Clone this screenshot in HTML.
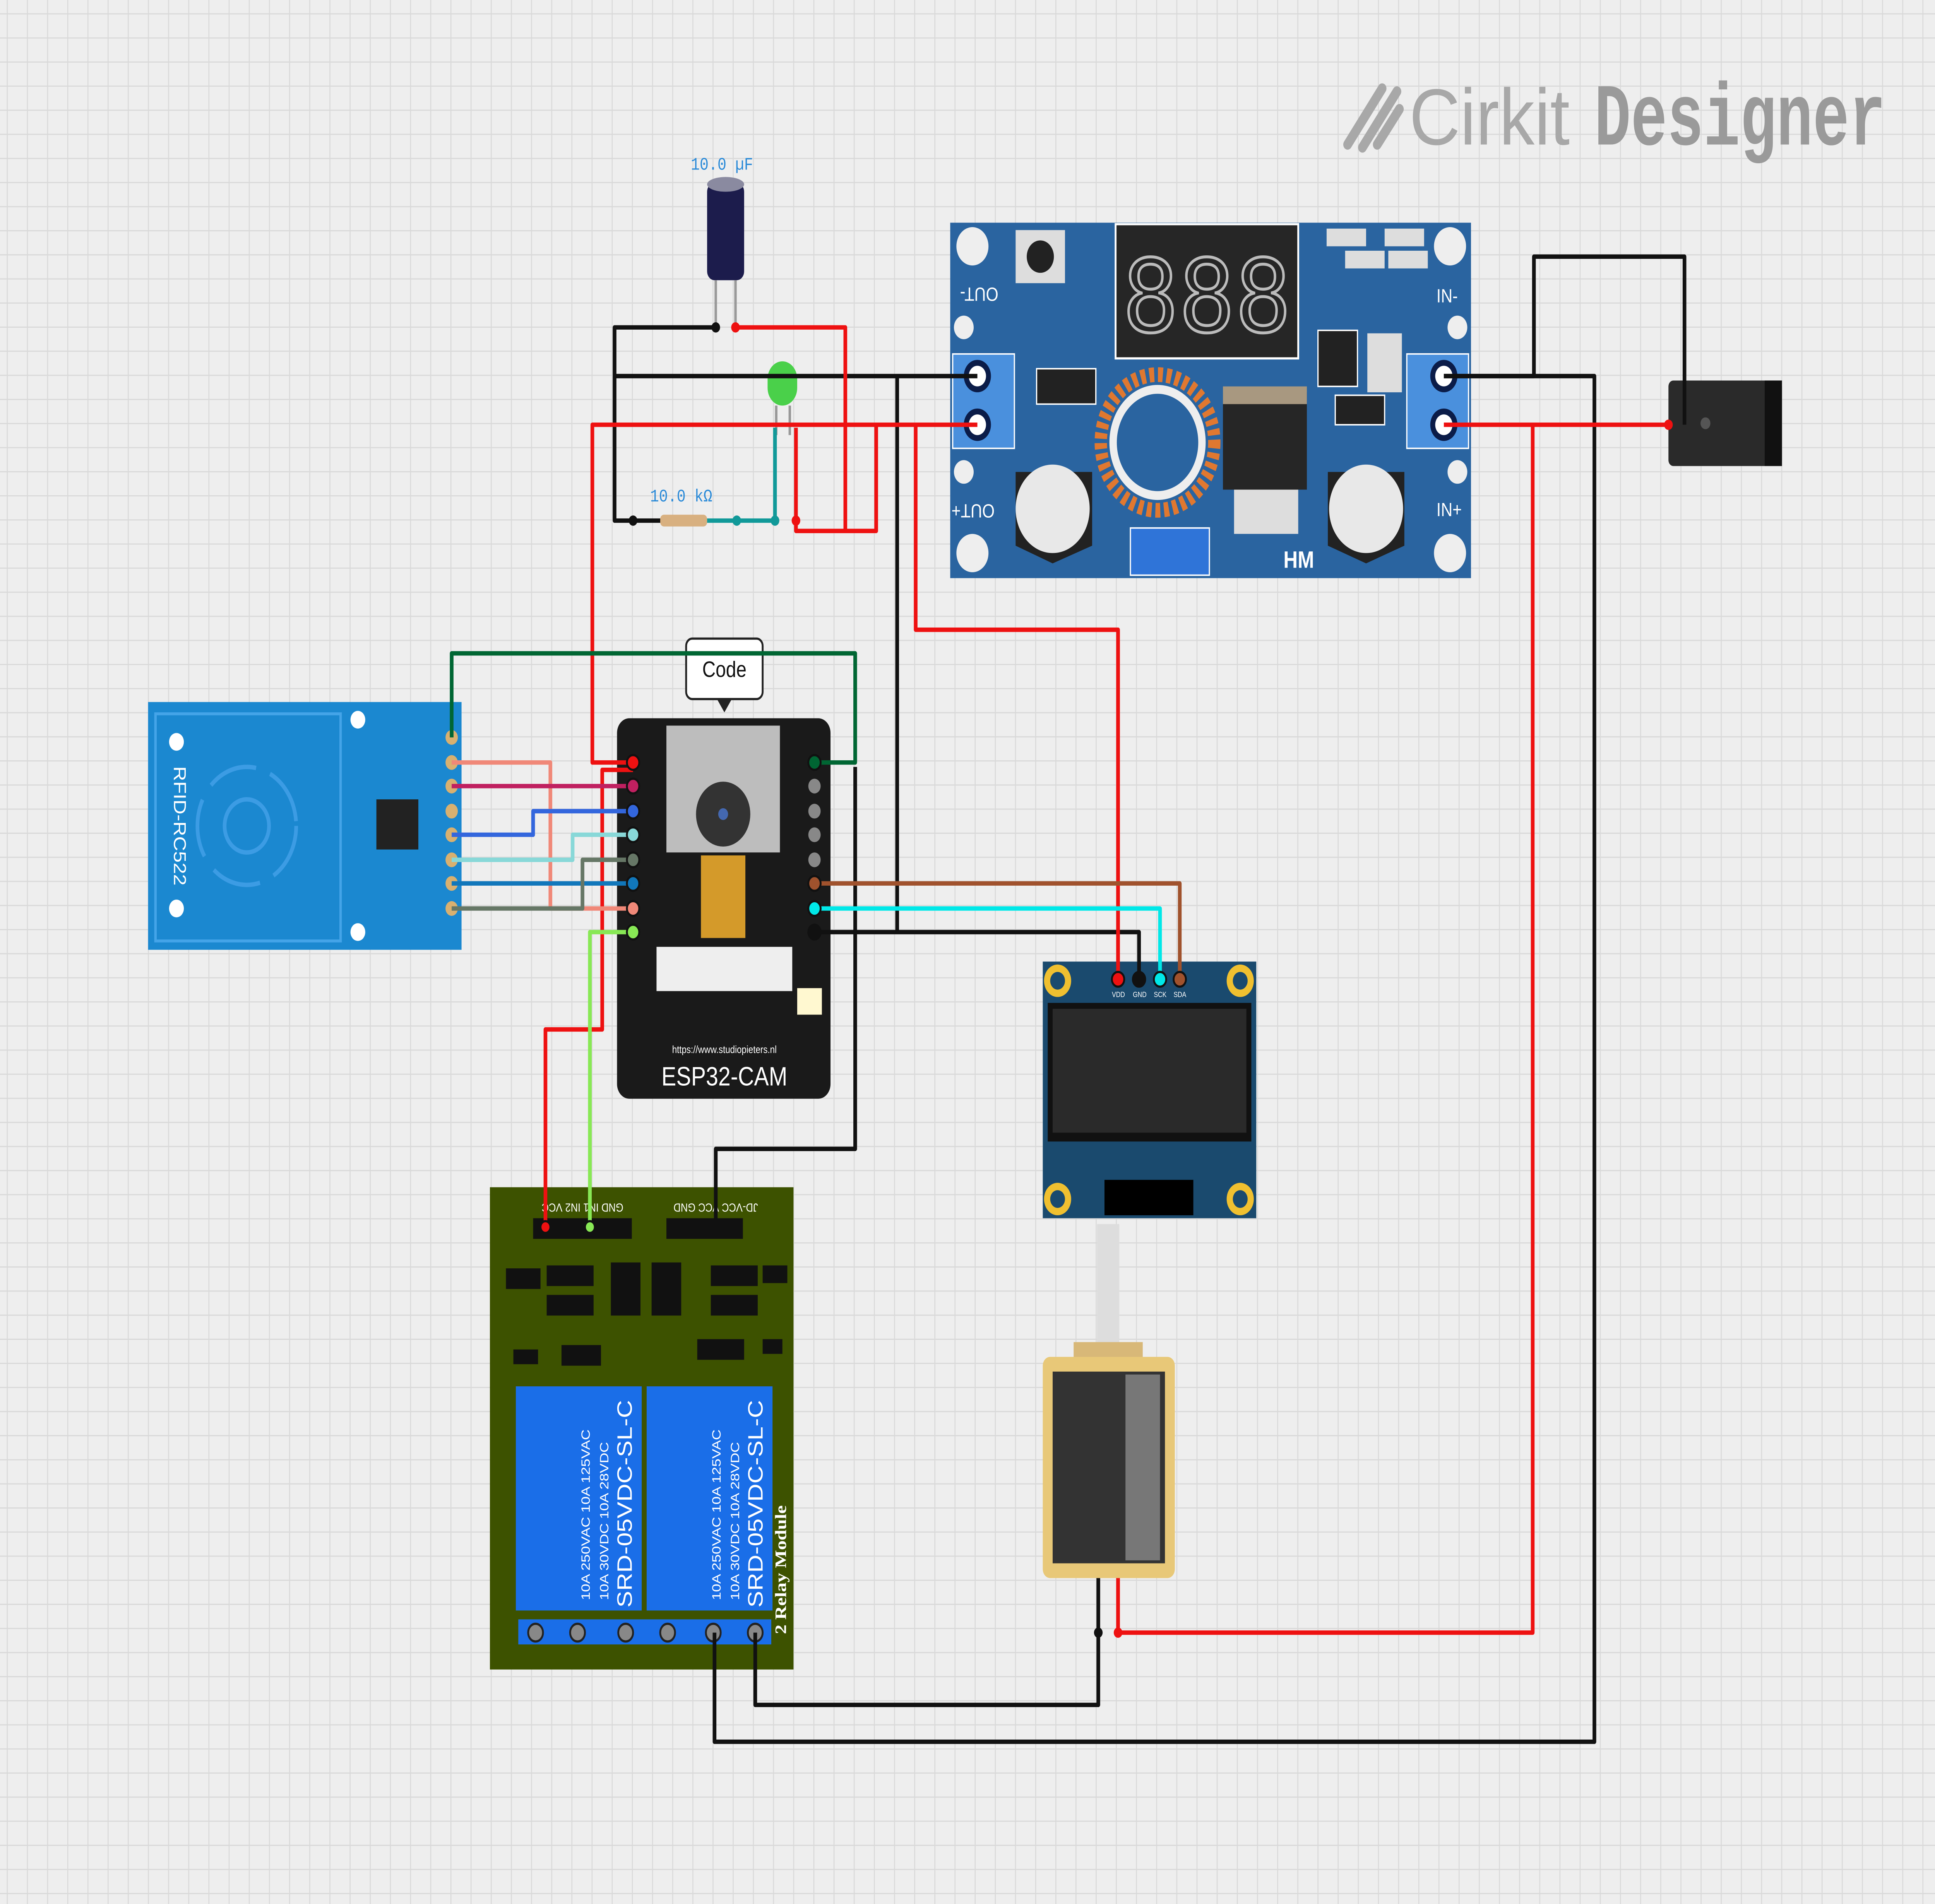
<!DOCTYPE html>
<html><head><meta charset="utf-8"><style>html,body{margin:0;padding:0;background:#eeeeee;width:100%;height:100%;overflow:hidden}svg{display:block;position:fixed;left:0;top:0;width:100vw;height:100vh}</style></head>
<body>
<svg viewBox="0 0 1568 1291" preserveAspectRatio="none" xmlns="http://www.w3.org/2000/svg" font-family="Liberation Sans, sans-serif">
<defs>
<pattern id="g" x="5.5" y="9" width="16.34" height="16.34" patternUnits="userSpaceOnUse">
<path d="M0 0H16.34M0 0V16.34" stroke="#d9d9d9" stroke-width="1.6" fill="none"/>
</pattern>
</defs>
<rect width="1568" height="1291" fill="#eeeeee"/>
<rect width="1568" height="1291" fill="url(#g)"/>

<!-- logo -->
<path d="M1092 98 L1120 60 M1104 100 L1132 62 M1116 98 L1134 74" stroke="#a8a8a8" stroke-width="7" stroke-linecap="round" fill="none"/>
<text x="1142" y="98" font-size="54" fill="#a8a8a8" textLength="130" lengthAdjust="spacingAndGlyphs">Cirkit</text>
<text x="1292" y="98" font-size="60" font-weight="bold" fill="#9a9a9a" textLength="236" lengthAdjust="spacingAndGlyphs" font-family="Liberation Mono, monospace">Designer</text>

<!-- buck converter -->
<g>
<rect x="770" y="151" width="422" height="241" fill="#2a64a0"/>
<rect x="904" y="152" width="148" height="91" fill="#262626" stroke="#fff" stroke-width="1.5"/>
<text x="978" y="225" font-size="76" fill="none" stroke="#bbb" stroke-width="2" text-anchor="middle" font-family="Liberation Mono, monospace">888</text>
<rect x="823" y="156" width="40" height="36" fill="#ddd"/><circle cx="843" cy="174" r="11" fill="#222"/>
<rect x="772" y="240" width="50" height="64" fill="#4a90dd" stroke="#fff"/>
<circle cx="792" cy="255" r="11" fill="#0b1c48"/><circle cx="792" cy="255" r="7" fill="#fff"/>
<circle cx="792" cy="288" r="11" fill="#0b1c48"/><circle cx="792" cy="288" r="7" fill="#fff"/>
<rect x="1140" y="240" width="50" height="64" fill="#4a90dd" stroke="#fff"/>
<circle cx="1170" cy="255" r="11" fill="#0b1c48"/><circle cx="1170" cy="255" r="7" fill="#fff"/>
<circle cx="1170" cy="288" r="11" fill="#0b1c48"/><circle cx="1170" cy="288" r="7" fill="#fff"/>
<circle cx="938" cy="300" r="46" fill="none" stroke="#e07830" stroke-width="10" stroke-dasharray="4 3"/>
<circle cx="938" cy="300" r="36" fill="none" stroke="#eee" stroke-width="6"/>
<rect x="991" y="266" width="68" height="66" fill="#262626"/><rect x="991" y="262" width="68" height="12" fill="#a89880"/>
<rect x="1000" y="332" width="52" height="30" fill="#ddd"/>
<path d="M823 320 L885 320 L885 370 L853 382 L823 370Z" fill="#222"/><circle cx="853" cy="345" r="30" fill="#e8e8e8"/>
<path d="M1076 320 L1138 320 L1138 370 L1107 382 L1076 370Z" fill="#222"/><circle cx="1107" cy="345" r="30" fill="#e8e8e8"/>
<rect x="916" y="358" width="64" height="32" fill="#2f74d8" stroke="#fff"/>
<rect x="840" y="250" width="48" height="24" fill="#222" stroke="#fff"/>
<rect x="1068" y="224" width="32" height="38" fill="#222" stroke="#fff"/>
<rect x="1075" y="155" width="32" height="12" fill="#ddd"/><rect x="1122" y="155" width="32" height="12" fill="#ddd"/>
<rect x="1090" y="170" width="32" height="12" fill="#ddd"/><rect x="1125" y="170" width="32" height="12" fill="#ddd"/>
<rect x="1108" y="226" width="28" height="40" fill="#ddd"/><rect x="1082" y="268" width="40" height="20" fill="#222" stroke="#fff"/>
<g fill="#eee"><circle cx="788" cy="167" r="13"/><circle cx="1175" cy="167" r="13"/><circle cx="788" cy="375" r="13"/><circle cx="1175" cy="375" r="13"/><circle cx="781" cy="222" r="8"/><circle cx="1181" cy="222" r="8"/><circle cx="781" cy="320" r="8"/><circle cx="1181" cy="320" r="8"/></g>
<g fill="#fff" font-size="13"><text x="775" y="205" transform="rotate(180 792 200)">OUT-</text><text x="778" y="350" transform="rotate(180 792 346)">OUT+</text><text x="1164" y="205">IN-</text><text x="1164" y="350">IN+</text><text x="1040" y="385" font-weight="bold" font-size="16">HM</text></g>
</g>

<!-- DC jack -->
<rect x="1352" y="258" width="92" height="58" rx="4" fill="#2a2a2a"/><rect x="1430" y="258" width="14" height="58" fill="#111"/><circle cx="1382" cy="287" r="4" fill="#555"/>

<!-- capacitor -->
<text x="585" y="115" font-size="12" fill="#2a8ad8" text-anchor="middle" font-family="Liberation Mono, monospace">10.0 µF</text>
<rect x="573" y="124" width="30" height="66" rx="6" fill="#1c1c4c"/><ellipse cx="588" cy="125" rx="15" ry="5" fill="#8a8aa0"/>
<line x1="580" y1="190" x2="580" y2="222" stroke="#999" stroke-width="2"/><line x1="596" y1="190" x2="596" y2="222" stroke="#999" stroke-width="2"/>
<!-- LED -->
<rect x="622" y="245" width="24" height="30" rx="12" fill="#4ad04a"/><line x1="629" y1="275" x2="629" y2="295" stroke="#999" stroke-width="2"/><line x1="640" y1="275" x2="640" y2="295" stroke="#999" stroke-width="2"/>
<!-- resistor -->
<text x="552" y="340" font-size="12" fill="#2a8ad8" text-anchor="middle" font-family="Liberation Mono, monospace">10.0 kΩ</text>
<rect x="535" y="349" width="38" height="8" rx="3" fill="#d8b080"/>

<!-- RFID -->
<rect x="120" y="476" width="254" height="168" fill="#1b88d0"/>
<rect x="126" y="484" width="150" height="154" fill="none" stroke="#44a4e8" stroke-width="2"/>
<circle cx="200" cy="560" r="40" fill="none" stroke="#3c9ce4" stroke-width="3" stroke-dasharray="40 12"/><circle cx="200" cy="560" r="18" fill="none" stroke="#3c9ce4" stroke-width="3"/>
<rect x="305" y="542" width="34" height="34" fill="#222"/>
<circle cx="143" cy="503" r="6" fill="#fff"/><circle cx="143" cy="616" r="6" fill="#fff"/><circle cx="290" cy="488" r="6" fill="#fff"/><circle cx="290" cy="632" r="6" fill="#fff"/>
<text x="146" y="560" font-size="14" fill="#fff" text-anchor="middle" transform="rotate(90 146 560)" dy="5">RFID-RC522</text>
<g fill="#d8b070"><circle cx="366" cy="500" r="5"/><circle cx="366" cy="517" r="5"/><circle cx="366" cy="533" r="5"/><circle cx="366" cy="550" r="5"/><circle cx="366" cy="566" r="5"/><circle cx="366" cy="583" r="5"/><circle cx="366" cy="599" r="5"/><circle cx="366" cy="616" r="5"/></g>

<!-- ESP32-CAM -->
<rect x="500" y="487" width="173" height="258" rx="10" fill="#1a1a1a"/>
<rect x="540" y="492" width="92" height="86" fill="#bdbdbd"/><circle cx="586" cy="552" r="22" fill="#333"/><circle cx="586" cy="552" r="4" fill="#4468b0"/>
<rect x="568" y="580" width="36" height="56" fill="#d49a2a"/>
<rect x="532" y="642" width="110" height="30" fill="#eee"/>
<rect x="646" y="670" width="20" height="18" fill="#fff8d0"/>
<text x="587" y="714" font-size="7" fill="#fff" text-anchor="middle">https://www.studiopieters.nl</text>
<text x="587" y="736" font-size="18" fill="#fff" text-anchor="middle">ESP32-CAM</text>
<g fill="#888"><circle cx="660" cy="517" r="5"/><circle cx="660" cy="533" r="5"/><circle cx="660" cy="550" r="5"/><circle cx="660" cy="566" r="5"/><circle cx="660" cy="583" r="5"/></g>
<!-- code bubble -->
<rect x="556" y="433" width="62" height="41" rx="5" fill="#fff" stroke="#222" stroke-width="1.5"/>
<path d="M581 474 L587 483 L593 474Z" fill="#222"/>
<text x="587" y="459" font-size="15" text-anchor="middle" fill="#111">Code</text>

<!-- OLED -->
<rect x="845" y="652" width="173" height="174" fill="#1a4a6e"/>
<rect x="849" y="680" width="165" height="94" fill="#111"/><rect x="853" y="684" width="157" height="84" fill="#2a2a2a"/>
<rect x="895" y="800" width="72" height="24" fill="#000"/>
<g fill="#f0c030"><circle cx="857" cy="665" r="11"/><circle cx="1005" cy="665" r="11"/><circle cx="857" cy="813" r="11"/><circle cx="1005" cy="813" r="11"/></g>
<g fill="#1a4a6e"><circle cx="857" cy="665" r="6"/><circle cx="1005" cy="665" r="6"/><circle cx="857" cy="813" r="6"/><circle cx="1005" cy="813" r="6"/></g>
<g font-size="5" fill="#fff"><text x="901" y="676">VDD</text><text x="918" y="676">GND</text><text x="935" y="676">SCK</text><text x="951" y="676">SDA</text></g>

<!-- solenoid -->
<rect x="889" y="830" width="18" height="88" fill="#ddd"/>
<rect x="870" y="910" width="56" height="14" fill="#d8b878"/>
<rect x="845" y="920" width="107" height="150" rx="6" fill="#e8c878"/>
<rect x="853" y="930" width="91" height="130" fill="#333"/><rect x="912" y="932" width="28" height="126" fill="#777"/>

<!-- relay module -->
<rect x="397" y="805" width="246" height="327" fill="#3d5200"/>
<rect x="432" y="826" width="80" height="14" fill="#111"/><rect x="540" y="826" width="62" height="14" fill="#111"/>
<g font-size="8" fill="#fff"><text x="472" y="822" text-anchor="middle" transform="rotate(180 472 819)">GND IN1 IN2 VCC</text><text x="580" y="822" text-anchor="middle" transform="rotate(180 580 819)">JD-VCC VCC GND</text></g>
<g fill="#111"><rect x="410" y="860" width="28" height="14"/><rect x="443" y="858" width="38" height="14"/><rect x="443" y="878" width="38" height="14"/><rect x="495" y="856" width="24" height="36"/><rect x="528" y="856" width="24" height="36"/><rect x="576" y="858" width="38" height="14"/><rect x="576" y="878" width="38" height="14"/><rect x="618" y="858" width="20" height="12"/><rect x="416" y="915" width="20" height="10"/><rect x="455" y="912" width="32" height="14"/><rect x="565" y="908" width="38" height="14"/><rect x="618" y="908" width="16" height="10"/></g>
<rect x="418" y="940" width="102" height="152" fill="#1a6ee8"/><rect x="524" y="940" width="102" height="152" fill="#1a6ee8"/>
<g fill="#fff"><text x="512" y="1090" font-size="17" transform="rotate(-90 512 1090)">SRD-05VDC-SL-C</text><text x="618" y="1090" font-size="17" transform="rotate(-90 618 1090)">SRD-05VDC-SL-C</text>
<text x="478" y="1085" font-size="10" transform="rotate(-90 478 1085)">10A 250VAC 10A 125VAC</text><text x="493" y="1085" font-size="10" transform="rotate(-90 493 1085)">10A 30VDC 10A 28VDC</text>
<text x="584" y="1085" font-size="10" transform="rotate(-90 584 1085)">10A 250VAC 10A 125VAC</text><text x="599" y="1085" font-size="10" transform="rotate(-90 599 1085)">10A 30VDC 10A 28VDC</text>
<text x="637" y="1108" font-size="13" font-weight="bold" font-family="Liberation Serif, serif" transform="rotate(-90 637 1108)">2 Relay Module</text></g>
<rect x="420" y="1098" width="205" height="17" fill="#1a6ee8"/>
<g fill="#888" stroke="#222" stroke-width="1.5"><circle cx="434" cy="1107" r="6"/><circle cx="468" cy="1107" r="6"/><circle cx="507" cy="1107" r="6"/><circle cx="541" cy="1107" r="6"/><circle cx="578" cy="1107" r="6"/><circle cx="612" cy="1107" r="6"/></g>

<!-- wires -->
<g fill="none" stroke-width="3" stroke-linejoin="round">
<path d="M580 222 H498 V353 H513 M513 353 H535" stroke="#111"/>
<path d="M498 255 H792" stroke="#111"/>
<path d="M573 353 H628 V290" stroke="#119999"/>
<path d="M727 255 V632 H660 M660 632 H923 V664" stroke="#111"/>
<path d="M693 520 V779 H580 V832" stroke="#111"/>
<path d="M1170 255 H1243 V174 H1365 V288" stroke="#111"/>
<path d="M1170 255 H1292 V1181 H579 V1107" stroke="#111"/>
<path d="M612 1107 V1156 H890 V1070" stroke="#111"/>
<path d="M596 222 H685 V360 H645 V290" stroke="#ee1111"/>
<path d="M792 288 H480 V517 H513" stroke="#ee1111"/>
<path d="M710 288 V360 H645" stroke="#ee1111"/>
<path d="M742 288 V427 H906 V664" stroke="#ee1111"/>
<path d="M1170 288 H1352" stroke="#ee1111"/>
<path d="M1242 288 V1107 H906 V1070" stroke="#ee1111"/>
<path d="M442 832 V698 H488 V522 H513" stroke="#ee1111"/>
<path d="M478 832 V632 H513" stroke="#88e855"/>
<path d="M660 616 H940 V664" stroke="#00e8e8"/>
<path d="M660 599 H956 V664" stroke="#a0522d"/>
<path d="M660 517 H693 V443 H366 V500" stroke="#006633"/>
<path d="M366 517 H446 V616 H513" stroke="#f08878"/>
<path d="M366 533 H513" stroke="#c02060"/>
<path d="M366 566 H432 V550 H513" stroke="#3366dd"/>
<path d="M366 583 H464 V566 H513" stroke="#88d8d8"/>
<path d="M366 599 H513" stroke="#1177bb"/>
<path d="M366 616 H472 V583 H513" stroke="#667766"/>
</g>
<!-- pin dots -->
<g stroke="#111" stroke-width="1.5">
<circle cx="513" cy="517" r="5" fill="#ee1111"/><circle cx="513" cy="533" r="5" fill="#c02060"/><circle cx="513" cy="550" r="5" fill="#3366dd"/><circle cx="513" cy="566" r="5" fill="#88d8d8"/><circle cx="513" cy="583" r="5" fill="#667766"/><circle cx="513" cy="599" r="5" fill="#1177bb"/><circle cx="513" cy="616" r="5" fill="#f08878"/><circle cx="513" cy="632" r="5" fill="#88e855"/>
<circle cx="660" cy="517" r="5" fill="#006633"/><circle cx="660" cy="599" r="5" fill="#a0522d"/><circle cx="660" cy="616" r="5" fill="#00e8e8"/><circle cx="660" cy="632" r="5" fill="#111"/>
<circle cx="906" cy="664" r="5" fill="#ee1111"/><circle cx="923" cy="664" r="5" fill="#111"/><circle cx="940" cy="664" r="5" fill="#00e8e8"/><circle cx="956" cy="664" r="5" fill="#a0522d"/>
<circle cx="442" cy="832" r="4" fill="#ee1111"/><circle cx="478" cy="832" r="4" fill="#88e855"/><circle cx="580" cy="832" r="4" fill="#111"/>
</g>
<g><circle cx="580" cy="222" r="3.5" fill="#111"/><circle cx="596" cy="222" r="3.5" fill="#ee1111"/><circle cx="513" cy="353" r="3.5" fill="#111"/><circle cx="628" cy="353" r="3.5" fill="#119999"/><circle cx="597" cy="353" r="3.5" fill="#119999"/><circle cx="645" cy="353" r="3.5" fill="#ee1111"/><circle cx="1352" cy="288" r="3.5" fill="#ee1111"/><circle cx="890" cy="1107" r="3.5" fill="#111"/><circle cx="906" cy="1107" r="3.5" fill="#ee1111"/></g>
</svg>
</body></html>
